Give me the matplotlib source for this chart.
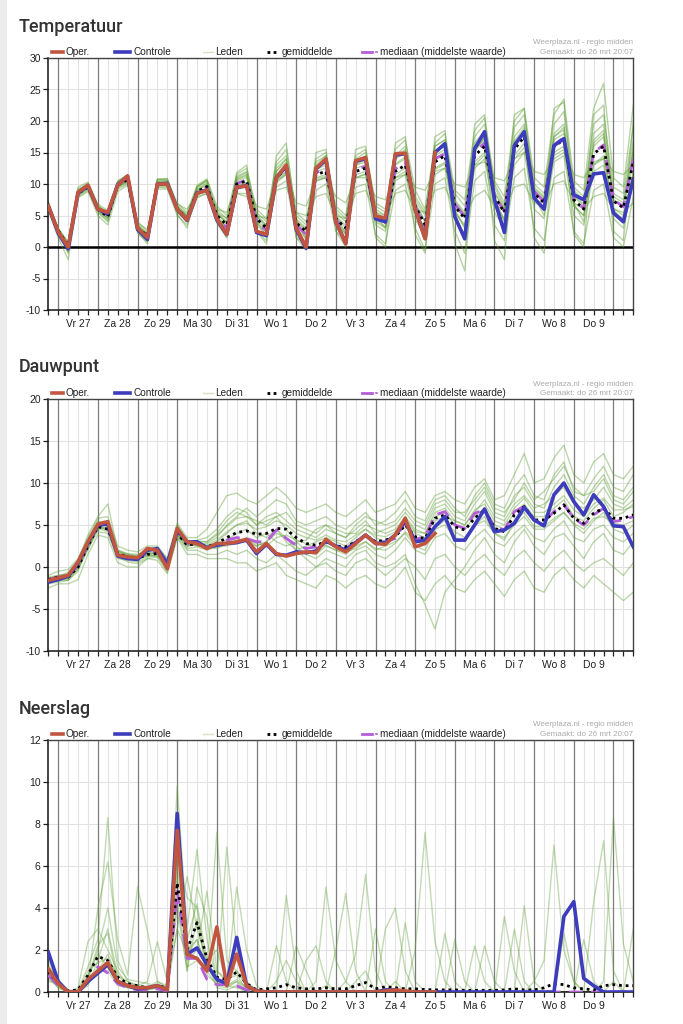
import numpy as np
import matplotlib
matplotlib.use("Agg")
import matplotlib.pyplot as plt
from matplotlib.lines import Line2D
from matplotlib.patches import Rectangle

plt.rcParams['font.family'] = ['Liberation Sans', 'DejaVu Sans']
plt.rcParams['axes.unicode_minus'] = False

# time axis: 6-hourly steps from do 26 18:00 to vr 10 12:00
n_steps = 60
day_labels = ['Vr 27', 'Za 28', 'Zo 29', 'Ma 30', 'Di 31', 'Wo 1', 'Do 2',
              'Vr 3', 'Za 4', 'Zo 5', 'Ma 6', 'Di 7', 'Wo 8', 'Do 9']

# ---------------- Temperatuur ----------------
temp_oper = [6.5, 2.4, 0.0, 8.7, 9.8, 6.0, 5.5, 9.8, 11.3, 3.0,
             1.5, 10.0, 10.0, 6.0, 4.3, 8.5, 9.0, 4.5, 2.0, 9.5,
             9.7, 2.5, 2.0, 11.0, 13.0, 3.0, 0.0, 12.5, 14.0, 4.0,
             0.5, 13.7, 14.2, 4.9, 4.6, 14.8, 14.9, 6.0, 1.3, 15.0]
temp_ctrl = [6.5, 2.2, -0.3, 8.6, 9.7, 6.0, 5.3, 9.9, 11.2, 2.8,
             1.2, 10.0, 10.1, 6.0, 4.2, 8.6, 9.0, 4.3, 2.0, 9.4,
             9.8, 2.3, 1.8, 11.0, 12.8, 2.8, -0.2, 12.4, 13.8, 4.0,
             0.6, 13.6, 14.0, 4.5, 4.0, 14.6, 14.8, 6.0, 1.4, 15.0,
             16.4, 4.8, 1.3, 15.6, 18.3, 7.5, 2.3, 16.1, 18.3, 7.8,
             6.0, 16.1, 17.2, 8.3, 7.5, 11.6, 11.8, 5.4, 4.0, 10.8]
temp_mean = [6.5, 2.6, 0.2, 8.5, 9.5, 6.0, 4.8, 9.8, 10.7, 3.0,
             1.8, 10.0, 10.0, 6.0, 4.6, 8.8, 9.6, 5.0, 3.5, 10.0,
             10.5, 4.5, 3.0, 11.0, 12.5, 3.8, 2.5, 11.5, 12.0, 4.5,
             3.0, 12.0, 12.5, 5.0, 4.0, 12.0, 13.0, 6.5, 3.5, 13.5,
             14.5, 6.5, 4.5, 14.5, 16.0, 8.0, 5.5, 15.5, 17.5, 8.5,
             7.0, 16.0, 17.0, 7.5, 6.0, 14.8, 16.0, 7.3, 6.2, 13.5]
temp_median = [6.5, 2.5, 0.1, 8.6, 9.6, 6.0, 5.0, 9.9, 10.9, 2.9,
               1.6, 10.1, 10.1, 6.0, 4.4, 8.7, 9.5, 4.8, 3.0, 10.1,
               10.6, 4.0, 2.6, 11.3, 12.8, 3.5, 2.0, 11.8, 12.4, 4.3,
               2.6, 12.3, 12.8, 4.8, 3.8, 12.4, 13.4, 6.4, 3.2, 14.0,
               14.8, 6.8, 4.8, 15.0, 16.5, 8.2, 5.6, 16.0, 18.2, 8.8,
               7.2, 16.2, 17.4, 7.6, 6.1, 15.0, 16.2, 7.5, 6.4, 14.0]
temp_members = [
    [7.2, 3.0, 0.8, 9.5, 10.3, 6.8, 5.8, 10.5, 11.5, 4.0,
     2.5, 10.8, 10.6, 7.0, 5.5, 9.8, 10.8, 6.5, 5.0, 11.5,
     12.5, 6.0, 4.5, 13.5, 15.5, 5.5, 4.0, 14.0, 15.0, 6.5,
     5.0, 14.5, 15.5, 7.0, 6.0, 15.5, 17.0, 9.0, 6.0, 16.5,
     18.0, 9.0, 7.5, 18.5, 20.5, 10.5, 8.0, 20.0, 22.0, 11.0,
     9.5, 21.0, 23.5, 10.5, 9.0, 22.0, 26.0, 11.0, 9.5, 22.5],
    [5.8, 1.5, -2.0, 7.8, 8.8, 5.0, 3.5, 8.8, 9.8, 2.2,
     0.8, 9.2, 9.2, 5.0, 3.5, 7.8, 8.5, 3.8, 1.5, 8.5,
     8.5, 2.5, 1.0, 9.5, 10.5, 1.5, 0.5, 9.0, 10.0, 2.5,
     1.0, 9.5, 10.0, 2.0, 0.5, 9.0, 10.0, 3.0, -0.5, 10.0,
     11.0, 2.5, -1.0, 10.5, 12.0, 3.5, 1.0, 11.0, 12.5, 3.0,
     1.0, 11.0, 12.0, 2.5, 0.5, 9.0, 10.0, 1.5, 0.0, 8.0],
    [6.8, 2.8, 0.5, 8.8, 9.8, 6.2, 5.0, 10.2, 11.0, 3.5,
     2.0, 10.5, 10.4, 6.5, 5.0, 9.2, 10.2, 5.5, 4.0, 10.8,
     11.5, 5.0, 3.5, 12.5, 14.0, 4.5, 3.0, 12.5, 13.5, 5.5,
     4.0, 13.0, 14.0, 6.0, 5.0, 14.0, 15.0, 7.5, 5.0, 15.0,
     16.0, 7.5, 5.5, 16.5, 18.5, 9.5, 6.5, 17.5, 19.5, 9.5,
     8.0, 18.0, 19.5, 9.0, 7.5, 18.0, 19.5, 8.5, 7.5, 17.0],
    [6.2, 2.2, -0.5, 8.2, 9.2, 5.6, 4.2, 9.4, 10.2, 2.6,
     1.2, 9.6, 9.6, 5.5, 4.0, 8.3, 9.0, 4.4, 2.5, 9.2,
     9.5, 3.5, 2.0, 10.2, 11.5, 2.8, 1.5, 10.5, 11.0, 3.5,
     2.0, 11.0, 11.5, 3.5, 2.5, 10.5, 11.5, 4.5, 1.5, 11.5,
     12.5, 4.5, 2.0, 12.5, 14.0, 5.5, 3.0, 13.0, 15.0, 6.0,
     4.5, 13.5, 14.5, 5.0, 3.5, 12.0, 13.0, 4.5, 3.0, 10.5],
    [6.6, 2.9, 0.4, 8.4, 9.4, 6.4, 5.6, 9.6, 10.4, 3.8,
     2.8, 9.8, 9.8, 6.8, 6.0, 8.6, 9.4, 6.0, 5.5, 9.6,
     10.0, 6.5, 6.0, 10.5, 11.5, 7.0, 6.5, 10.5, 11.0, 8.0,
     7.0, 11.0, 11.0, 8.0, 7.5, 11.0, 11.5, 9.5, 9.0, 12.0,
     12.5, 10.0, 9.5, 13.0, 13.5, 11.0, 10.5, 14.0, 15.0, 12.0,
     11.5, 14.0, 15.0, 11.5, 11.0, 13.5, 14.0, 12.0, 11.5, 13.0],
    [6.4, 2.3, -1.0, 8.9, 10.0, 5.5, 4.0, 10.0, 11.2, 2.4,
     0.5, 10.4, 10.6, 5.2, 3.0, 9.5, 10.5, 4.0, 1.5, 11.0,
     11.8, 2.5, 0.5, 12.0, 14.0, 1.5, -0.5, 13.0, 14.5, 2.5,
     0.0, 13.5, 14.5, 1.5, 0.0, 14.0, 15.5, 2.0, -1.0, 16.0,
     17.0, 0.5, -3.8, 15.0, 17.5, 1.0, -2.0, 16.0, 18.5, 1.5,
     -1.0, 17.5, 19.0, 2.0, 0.0, 17.0, 18.5, 2.5, 1.0, 16.0],
    [6.5, 2.6, 0.0, 8.6, 9.6, 6.1, 5.2, 9.9, 10.8, 3.2,
     1.7, 10.2, 10.2, 6.2, 4.8, 9.0, 9.8, 5.2, 3.8, 10.5,
     11.0, 4.8, 3.0, 11.5, 13.0, 4.0, 2.5, 12.0, 12.5, 4.8,
     3.0, 12.5, 13.0, 5.5, 4.5, 13.0, 14.0, 7.0, 4.0, 14.0,
     15.0, 7.0, 5.0, 15.5, 17.0, 8.5, 6.0, 16.5, 18.5, 9.0,
     7.5, 17.0, 18.0, 8.0, 6.5, 16.0, 17.5, 7.5, 6.5, 15.0],
    [6.3, 2.4, 0.2, 8.0, 9.0, 5.8, 4.6, 9.2, 10.0, 3.0,
     2.2, 9.5, 9.4, 6.0, 5.0, 8.0, 8.5, 5.5, 4.5, 8.5,
     8.0, 5.0, 4.5, 9.0, 9.5, 5.5, 5.0, 8.0, 8.5, 5.0,
     4.5, 8.5, 9.0, 5.5, 5.0, 8.5, 9.0, 6.0, 5.5, 9.0,
     9.5, 6.0, 5.0, 8.0, 9.0, 6.5, 6.0, 9.5, 10.0, 7.0,
     6.5, 10.0, 10.5, 7.0, 6.0, 8.0, 8.5, 6.0, 5.5, 7.0],
    [7.0, 2.7, -0.8, 9.2, 10.0, 6.5, 5.2, 10.4, 11.4, 3.4,
     1.5, 10.8, 10.8, 6.4, 4.2, 9.5, 10.6, 5.0, 2.8, 11.8,
     13.0, 4.0, 1.8, 14.5, 16.5, 4.5, 1.0, 15.0, 15.5, 5.0,
     2.0, 15.5, 16.0, 5.0, 3.0, 16.5, 17.5, 6.0, 2.5, 17.5,
     18.5, 6.0, 3.0, 19.5, 21.0, 8.0, 4.0, 21.0, 22.0, 8.0,
     5.0, 22.0, 23.0, 7.0, 4.0, 21.0, 22.5, 6.0, 4.0, 20.0],
    [6.0, 2.0, -0.2, 8.3, 9.3, 5.9, 4.5, 9.6, 10.5, 2.8,
     1.6, 9.9, 9.9, 5.8, 4.4, 8.6, 9.3, 4.8, 3.2, 9.8,
     10.2, 4.2, 2.8, 10.8, 12.0, 3.5, 2.0, 11.0, 11.5, 4.0,
     2.5, 11.5, 12.0, 4.0, 3.0, 11.5, 12.5, 5.5, 3.0, 12.5,
     13.5, 5.5, 3.5, 13.5, 15.0, 7.0, 4.5, 14.5, 16.5, 7.5,
     6.0, 15.0, 16.0, 6.5, 5.0, 13.0, 14.5, 5.5, 4.5, 12.0],
    [6.7, 2.7, 0.3, 8.7, 9.7, 6.2, 5.0, 10.0, 11.0, 3.3,
     2.0, 10.3, 10.3, 6.3, 4.9, 9.1, 10.0, 5.3, 3.9, 10.7,
     11.3, 5.0, 3.4, 12.0, 13.5, 4.2, 2.8, 12.3, 13.0, 5.0,
     3.4, 13.0, 13.5, 5.3, 4.3, 13.2, 14.3, 7.0, 4.0, 14.5,
     15.5, 7.2, 5.2, 15.5, 17.3, 8.8, 6.2, 16.8, 19.0, 9.2,
     7.8, 17.5, 18.6, 8.2, 6.8, 16.5, 18.0, 8.0, 7.0, 15.5],
    [6.4, 2.4, -0.1, 8.4, 9.3, 5.8, 4.6, 9.6, 10.4, 2.8,
     1.5, 9.8, 9.8, 5.7, 4.2, 8.5, 9.2, 4.6, 3.0, 9.6,
     9.9, 3.9, 2.4, 10.5, 11.8, 3.2, 1.8, 10.8, 11.2, 3.8,
     2.2, 11.0, 11.6, 4.3, 3.2, 11.0, 12.0, 5.8, 2.6, 12.3,
     13.2, 5.5, 3.2, 13.0, 14.6, 6.8, 4.2, 14.0, 15.8, 7.5,
     5.8, 14.5, 15.5, 6.5, 5.0, 13.0, 14.0, 6.2, 5.0, 11.5],
    [6.9, 2.9, 0.6, 9.0, 10.1, 6.6, 5.4, 10.3, 11.3, 3.6,
     2.2, 10.6, 10.9, 6.6, 5.2, 9.6, 10.6, 6.0, 4.5, 11.2,
     12.0, 5.5, 4.0, 13.0, 14.5, 5.0, 3.5, 13.5, 14.5, 6.0,
     4.5, 14.0, 15.0, 6.5, 5.5, 14.5, 16.0, 8.0, 5.5, 16.0,
     17.0, 8.5, 6.5, 17.5, 19.5, 10.0, 7.0, 19.0, 21.0, 10.0,
     8.5, 19.5, 21.5, 9.5, 8.0, 19.5, 21.0, 9.5, 8.5, 19.0],
]

# ---------------- Dauwpunt ----------------
dew_oper = [-1.6, -1.3, -1.0, 0.6, 3.0, 5.1, 5.4, 1.4, 1.2, 1.1,
            2.2, 2.0, -0.2, 4.6, 3.0, 2.8, 2.2, 2.8, 2.8, 3.0,
            3.3, 1.8, 2.8, 1.6, 1.3, 1.6, 1.8, 1.7, 3.3, 2.4,
            1.8, 2.8, 3.8, 2.8, 2.7, 3.8, 5.8, 2.4, 2.8, 4.0]
dew_ctrl = [-1.8, -1.5, -1.1, 0.5, 2.9, 5.0, 5.1, 1.3, 1.0, 0.9,
            2.0, 2.2, 0.4, 4.4, 3.0, 3.0, 2.3, 2.6, 2.8, 2.9,
            3.2, 1.6, 2.7, 1.5, 1.4, 1.8, 1.7, 1.9, 3.1, 2.5,
            2.0, 2.9, 3.8, 2.8, 2.9, 3.8, 5.5, 3.0, 3.2, 4.8,
            6.0, 3.2, 3.2, 5.0, 6.9, 4.2, 4.4, 5.2, 7.1, 5.6,
            4.9, 8.6, 10.0, 7.8, 6.2, 8.6, 7.2, 4.9, 4.8, 2.4]
dew_mean = [-1.5, -1.2, -1.2, 0.0, 2.5, 4.8, 4.5, 1.6, 1.2, 1.0,
            1.5, 1.6, 0.5, 4.0, 2.6, 2.8, 2.4, 2.8, 3.5, 4.1,
            4.3, 3.9, 4.0, 4.6, 4.5, 3.5, 2.8, 2.6, 3.0, 2.5,
            2.4, 3.0, 3.8, 3.0, 3.2, 3.6, 5.0, 3.6, 3.4, 5.8,
            6.2, 4.8, 4.4, 5.8, 6.8, 4.6, 4.2, 6.2, 7.2, 5.6,
            5.6, 6.4, 7.4, 5.8, 5.2, 6.4, 7.0, 5.8, 5.8, 6.2]
dew_median = [-1.5, -1.2, -1.1, 0.2, 2.7, 4.9, 4.7, 1.5, 1.1, 1.0,
              1.7, 1.8, 0.3, 4.2, 2.8, 2.8, 2.3, 2.7, 3.2, 3.5,
              3.4, 3.0, 3.0, 4.4, 3.4, 2.6, 2.2, 2.4, 3.1, 2.4,
              2.2, 3.0, 3.8, 3.0, 3.0, 3.4, 5.3, 3.3, 3.6, 6.2,
              6.6, 5.0, 4.6, 6.4, 6.8, 4.8, 4.4, 6.6, 7.2, 5.5,
              5.4, 6.6, 7.4, 5.8, 5.0, 6.2, 7.0, 5.4, 5.6, 6.0]
dew_members = [
    [-1.0, -0.5, -0.3, 1.0, 3.5, 5.8, 6.0, 2.5, 2.0, 1.8,
     2.5, 2.5, 1.0, 5.2, 3.5, 3.5, 4.5, 6.5, 8.5, 8.8,
     8.0, 7.5, 8.5, 9.5, 8.5, 7.0, 6.5, 7.0, 7.5, 6.5,
     6.0, 7.0, 8.0, 6.5, 7.0, 7.5, 9.0, 7.0, 6.5, 8.5,
     9.0, 8.0, 7.5, 9.5, 10.5, 8.0, 8.5, 11.0, 13.5, 10.0,
     10.5, 13.0, 14.5, 11.0, 10.0, 12.5, 13.5, 11.0, 10.5, 12.0],
    [-2.5, -2.0, -2.0, -1.5, 1.5, 3.8, 3.5, 0.5, 0.0, 0.0,
     1.0, 0.8, -0.8, 3.5, 1.5, 1.5, 1.0, 1.0, 1.0, 0.5,
     0.5, -0.5, 0.0, 0.5, -1.0, -1.5, -2.0, -2.5, -1.0, -1.5,
     -2.5, -1.5, -1.0, -2.0, -2.5, -1.5, 0.0, -3.0, -4.0, -2.0,
     -1.0, -2.5, -3.0, -1.5, -0.5, -2.0, -3.5, -1.5, -0.5, -2.5,
     -3.0, -1.0, 0.0, -1.5, -2.5, -1.0, -2.0, -3.0, -4.0, -3.0],
    [-1.8, -1.6, -1.5, 0.2, 3.2, 5.5, 5.0, 1.8, 1.5, 1.2,
     1.8, 2.0, 0.6, 4.5, 3.0, 3.2, 3.5, 4.5, 6.0, 7.0,
     6.5, 5.0, 6.0, 6.5, 5.5, 4.5, 4.0, 3.5, 4.5, 4.0,
     3.5, 4.5, 5.5, 4.0, 4.5, 5.0, 6.5, 5.0, 4.5, 7.0,
     7.5, 6.0, 5.5, 7.5, 9.0, 6.5, 6.0, 8.5, 9.5, 7.5,
     7.0, 9.5, 11.0, 8.5, 7.5, 9.5, 11.0, 8.5, 8.0, 9.5],
    [-1.2, -1.0, -0.8, 0.5, 2.2, 4.2, 4.0, 1.0, 0.8, 0.6,
     1.2, 1.4, -0.4, 3.8, 2.2, 2.4, 2.0, 2.4, 2.5, 2.8,
     3.5, 2.5, 3.0, 4.0, 3.5, 2.5, 1.5, 1.0, 2.0, 1.5,
     1.0, 2.0, 2.5, 1.5, 1.0, 2.0, 3.5, 2.0, 1.5, 3.5,
     4.0, 2.5, 2.0, 3.5, 4.5, 3.0, 2.5, 4.0, 5.0, 3.5,
     3.0, 4.5, 5.5, 3.5, 3.0, 4.5, 5.0, 3.5, 3.0, 4.0],
    [-2.0, -1.8, -1.6, -0.5, 2.6, 5.2, 5.5, 1.2, 1.0, 0.8,
     1.5, 1.2, 0.0, 4.2, 2.8, 2.5, 2.5, 3.0, 4.0, 5.0,
     5.5, 4.0, 3.5, 4.5, 3.5, 2.0, 1.0, 0.0, 1.0, 0.5,
     0.0, 1.5, 2.0, 0.5, 0.0, 0.5, 1.5, -2.0, -4.5, -7.4,
     -3.0, -1.5, 0.0, 2.0, 3.5, 1.5, 0.5, 3.0, 4.5, 2.5,
     1.5, 3.5, 4.0, 2.5, 1.0, 3.0, 4.0, 2.0, 1.5, 3.0],
    [-1.4, -1.1, -1.3, 0.0, 2.8, 5.0, 5.2, 2.0, 1.5, 1.4,
     1.8, 1.6, 0.8, 4.0, 2.4, 2.8, 2.8, 3.5, 5.0, 6.0,
     7.0, 6.0, 7.0, 8.0, 7.5, 5.5, 5.0, 5.5, 6.0, 5.0,
     4.5, 5.5, 6.5, 5.0, 5.5, 6.5, 8.0, 6.0, 5.5, 8.0,
     8.5, 7.0, 6.0, 8.5, 10.0, 7.5, 7.0, 9.5, 11.0, 8.5,
     8.0, 11.0, 12.5, 9.0, 8.5, 10.5, 12.0, 9.5, 9.0, 11.0],
    [-1.6, -1.4, -1.0, 0.4, 2.4, 4.6, 4.2, 1.4, 1.2, 1.0,
     1.4, 1.8, 0.2, 4.4, 2.6, 2.6, 2.2, 2.6, 3.0, 3.4,
     3.0, 2.5, 3.0, 4.5, 3.0, 2.0, 2.5, 3.0, 3.5, 3.0,
     2.5, 3.5, 4.5, 3.5, 3.0, 4.0, 5.5, 4.0, 3.5, 6.0,
     6.5, 5.0, 4.5, 6.0, 7.0, 5.0, 4.5, 6.5, 7.5, 6.0,
     6.0, 7.0, 8.0, 6.0, 5.5, 7.0, 8.0, 6.0, 6.5, 7.5],
    [-1.9, -1.3, -1.4, -0.2, 2.0, 4.8, 4.4, 1.2, 0.6, 0.4,
     1.0, 1.2, -0.6, 3.6, 2.0, 2.0, 1.5, 1.5, 2.0, 1.5,
     2.0, 1.0, 0.5, 1.5, 0.5, -0.5, -1.0, 0.0, 0.5, -0.5,
     -1.0, 0.5, 1.0, 0.0, -1.0, 0.0, 1.0, 0.0, -1.5, 1.0,
     1.5, 0.0, -1.0, 0.5, 1.5, 0.0, -1.0, 1.0, 2.0, 0.5,
     -0.5, 1.0, 2.0, 0.5, -0.5, 0.5, 1.0, 0.0, -1.0, 0.5],
    [-1.3, -1.2, -0.6, 0.8, 3.8, 6.0, 7.5, 2.0, 1.6, 1.5,
     2.0, 2.3, 1.0, 5.0, 3.2, 3.0, 3.0, 4.0, 5.5, 6.5,
     6.0, 5.5, 5.0, 6.0, 6.5, 5.0, 4.5, 4.0, 5.0, 4.5,
     4.0, 4.0, 5.0, 4.5, 4.0, 4.5, 6.0, 4.5, 4.0, 5.5,
     6.0, 5.5, 5.0, 6.5, 8.0, 6.0, 5.5, 7.5, 8.5, 7.0,
     7.5, 8.5, 9.5, 7.5, 7.0, 8.0, 9.5, 7.5, 7.0, 8.0],
    [-1.7, -1.5, -1.6, -0.3, 2.5, 4.5, 4.8, 1.6, 1.3, 1.1,
     1.6, 1.5, 0.1, 3.8, 2.8, 2.6, 2.4, 2.8, 3.2, 4.0,
     4.5, 3.5, 4.0, 3.0, 2.5, 3.0, 2.0, 1.5, 2.5, 2.0,
     1.5, 2.5, 3.0, 2.0, 2.5, 3.0, 4.0, 2.5, 2.0, 4.5,
     5.0, 3.5, 3.0, 5.0, 5.5, 4.0, 3.5, 5.0, 6.0, 4.5,
     4.5, 5.5, 6.5, 5.0, 4.0, 5.5, 6.5, 4.5, 4.0, 5.0],
    [-1.5, -1.3, -1.2, 0.1, 2.6, 4.9, 4.6, 1.5, 1.2, 1.0,
     1.6, 1.7, 0.4, 4.1, 2.7, 2.7, 2.6, 3.2, 4.2, 5.0,
     5.2, 4.5, 4.8, 5.5, 5.0, 4.0, 3.5, 3.2, 3.8, 3.2,
     3.0, 3.8, 4.5, 3.8, 3.6, 4.2, 5.8, 4.2, 4.0, 6.5,
     7.0, 5.5, 5.0, 6.8, 7.5, 5.5, 5.0, 7.0, 8.2, 6.5,
     6.5, 7.5, 8.5, 6.8, 6.0, 7.5, 8.2, 6.8, 6.8, 7.2],
    [-1.6, -1.2, -1.3, -0.1, 2.3, 4.7, 4.5, 1.7, 1.3, 1.1,
     1.3, 1.4, 0.6, 3.9, 2.5, 2.9, 2.4, 2.2, 2.8, 3.0,
     3.2, 2.8, 2.5, 3.5, 3.8, 3.2, 2.8, 2.2, 2.6, 2.0,
     1.8, 2.2, 3.0, 2.2, 2.0, 2.8, 4.2, 3.0, 2.8, 4.8,
     5.5, 4.2, 3.5, 5.0, 6.0, 4.0, 3.2, 5.5, 6.5, 4.8,
     4.8, 5.8, 6.5, 5.2, 4.5, 5.8, 6.0, 5.2, 5.0, 5.5],
    [-1.4, -1.0, -0.9, 0.3, 2.9, 5.3, 5.0, 1.9, 1.4, 1.3,
     1.9, 2.1, 0.7, 4.3, 2.9, 3.1, 3.0, 3.8, 4.8, 5.8,
     6.0, 5.0, 5.5, 6.0, 4.5, 3.0, 3.2, 4.5, 5.0, 4.0,
     3.5, 5.0, 6.0, 5.5, 5.0, 5.5, 7.0, 5.5, 5.0, 7.5,
     8.0, 6.5, 6.5, 8.0, 9.5, 7.0, 6.5, 8.0, 10.0, 8.0,
     9.0, 10.5, 12.0, 9.5, 8.5, 9.0, 10.5, 8.0, 7.5, 9.0],
]

# ---------------- Neerslag ----------------
rain_oper = [1.1, 0.4, 0.0, 0.0, 0.6, 1.0, 1.4, 0.5, 0.3, 0.2,
             0.2, 0.3, 0.1, 7.7, 1.8, 1.6, 1.0, 3.1, 0.3, 1.8,
             0.3, 0.05, 0.0, 0.0, 0.0, 0.0, 0.0, 0.0, 0.0, 0.0,
             0.0, 0.0, 0.0, 0.0, 0.05, 0.1, 0.05, 0.0, 0.0, 0.0]
rain_ctrl = [1.9, 0.5, 0.0, 0.0, 0.5, 0.9, 1.3, 0.5, 0.3, 0.15,
             0.2, 0.3, 0.1, 8.5, 1.8, 2.1, 1.3, 0.6, 0.4, 2.6,
             0.3, 0.05, 0.0, 0.0, 0.0, 0.0, 0.0, 0.0, 0.0, 0.0,
             0.0, 0.0, 0.0, 0.0, 0.1, 0.1, 0.0, 0.0, 0.0, 0.0,
             0.0, 0.0, 0.0, 0.0, 0.0, 0.0, 0.0, 0.0, 0.0, 0.0,
             0.0, 0.0, 3.6, 4.3, 0.65, 0.3, 0.0, 0.0, 0.0, 0.0]
rain_mean = [1.0, 0.4, 0.05, 0.1, 0.8, 1.7, 1.5, 0.7, 0.4, 0.3,
             0.2, 0.3, 0.2, 5.2, 2.0, 3.3, 1.6, 0.7, 0.6, 0.95,
             0.4, 0.1, 0.15, 0.2, 0.35, 0.2, 0.15, 0.15, 0.2, 0.15,
             0.15, 0.3, 0.45, 0.15, 0.25, 0.2, 0.15, 0.15, 0.12, 0.1,
             0.1, 0.1, 0.08, 0.08, 0.08, 0.08, 0.1, 0.15, 0.1, 0.1,
             0.2, 0.4, 0.35, 0.2, 0.15, 0.1, 0.3, 0.35, 0.3, 0.3]
rain_median = [0.8, 0.3, 0.0, 0.0, 0.5, 1.2, 0.9, 0.4, 0.2, 0.1,
               0.1, 0.15, 0.05, 4.8, 1.6, 1.6, 0.6, 0.35, 0.35, 0.3,
               0.1, 0.0, 0.0, 0.0, 0.0, 0.0, 0.0, 0.0, 0.0, 0.0,
               0.0, 0.0, 0.0, 0.0, 0.0, 0.0, 0.0, 0.0, 0.0, 0.0,
               0.0, 0.0, 0.0, 0.0, 0.0, 0.0, 0.0, 0.0, 0.0, 0.0,
               0.0, 0.0, 0.0, 0.0, 0.0, 0.0, 0.0, 0.0, 0.0, 0.0]
rain_members = [
    [0.9, 0.3, 0.0, 0.1, 1.2, 2.5, 8.3, 1.5, 0.5, 0.3,
     0.2, 0.5, 0.3, 9.8, 3.0, 6.8, 2.5, 0.5, 0.3, 0.5,
     0.2, 0.0, 0.0, 0.5, 1.5, 0.5, 0.0, 0.0, 0.3, 0.0,
     0.0, 0.5, 1.0, 0.0, 0.0, 0.5, 0.0, 0.0, 0.0, 0.0,
     0.0, 0.0, 0.0, 0.0, 0.0, 0.0, 0.0, 0.0, 0.0, 0.5,
     1.5, 7.0, 2.0, 0.5, 0.0, 0.0, 0.0, 0.5, 0.0, 0.0],
    [0.7, 0.2, 0.0, 0.0, 0.5, 4.0, 6.2, 2.5, 0.8, 5.0,
     2.9, 0.5, 0.2, 6.5, 4.5, 4.0, 1.0, 7.6, 1.5, 1.0,
     0.3, 0.0, 0.0, 0.0, 0.0, 0.0, 0.0, 0.0, 0.0, 0.0,
     0.5, 1.8, 5.6, 1.0, 0.0, 0.0, 0.0, 0.0, 0.0, 0.0,
     0.0, 0.0, 0.0, 0.0, 0.0, 0.0, 0.0, 0.0, 0.0, 0.0,
     0.0, 0.0, 0.0, 0.0, 0.0, 0.0, 0.5, 8.3, 2.3, 0.5],
    [1.2, 0.6, 0.0, 0.2, 2.4, 3.0, 2.0, 1.0, 0.3, 0.2,
     0.1, 0.2, 0.0, 4.5, 1.0, 5.0, 3.5, 0.5, 6.9, 2.0,
     0.5, 0.1, 0.0, 0.0, 0.0, 2.2, 1.0, 0.0, 0.0, 0.0,
     0.0, 0.0, 0.0, 0.0, 0.0, 0.0, 0.0, 2.0, 7.6, 2.4,
     0.5, 0.0, 0.0, 0.0, 0.0, 0.0, 0.0, 0.0, 0.0, 0.0,
     0.0, 0.0, 0.0, 0.0, 0.0, 0.0, 0.0, 0.0, 0.0, 0.0],
    [0.5, 0.4, 0.1, 0.0, 0.3, 1.5, 3.0, 0.8, 0.5, 0.3,
     0.5, 2.4, 0.5, 3.0, 5.5, 3.0, 1.5, 2.0, 0.5, 5.0,
     2.0, 0.3, 0.0, 0.0, 4.6, 1.0, 0.0, 0.0, 0.0, 0.0,
     0.0, 0.0, 0.0, 0.0, 3.0, 4.0, 1.0, 0.0, 0.0, 0.0,
     2.8, 0.5, 0.0, 0.0, 0.0, 0.0, 0.0, 0.0, 0.0, 0.0,
     0.0, 0.0, 0.0, 0.0, 0.0, 4.3, 7.2, 1.0, 0.0, 0.0],
    [1.5, 0.5, 0.0, 0.0, 0.8, 1.8, 1.2, 0.4, 0.2, 0.2,
     0.3, 0.2, 0.1, 7.0, 2.0, 2.5, 1.0, 0.3, 0.2, 0.5,
     0.0, 0.0, 0.0, 0.0, 0.0, 0.0, 0.0, 0.5, 5.0, 1.5,
     0.5, 0.0, 0.0, 0.0, 0.0, 0.0, 0.0, 0.0, 0.0, 0.0,
     0.0, 2.5, 0.5, 0.0, 0.0, 0.0, 3.6, 1.0, 0.0, 0.0,
     0.0, 0.0, 0.0, 0.0, 0.0, 0.0, 0.0, 0.0, 0.0, 3.0],
    [0.8, 0.2, 0.0, 0.1, 0.6, 2.0, 4.0, 1.2, 0.6, 0.5,
     0.4, 0.3, 0.2, 8.5, 1.5, 2.0, 4.8, 1.0, 0.5, 1.0,
     0.3, 0.0, 0.0, 2.2, 0.5, 0.0, 0.0, 0.0, 0.0, 0.0,
     0.0, 0.0, 0.0, 3.0, 0.5, 0.0, 3.3, 0.5, 0.0, 0.0,
     0.0, 0.0, 0.0, 2.2, 0.5, 0.0, 0.0, 0.0, 4.1, 0.5,
     0.0, 0.0, 0.0, 0.0, 2.5, 0.5, 0.0, 0.0, 0.0, 0.0],
    [1.0, 0.3, 0.0, 0.0, 0.4, 1.0, 1.8, 0.6, 0.3, 0.2,
     0.2, 0.3, 0.1, 5.5, 1.2, 1.5, 1.2, 0.5, 0.3, 0.2,
     0.0, 0.0, 0.0, 0.0, 0.0, 0.0, 1.5, 2.2, 0.5, 0.0,
     0.0, 0.0, 0.0, 0.0, 0.0, 0.0, 0.0, 0.0, 0.0, 0.0,
     0.0, 0.0, 0.0, 0.0, 2.2, 0.5, 0.0, 3.0, 0.5, 0.0,
     0.0, 0.0, 2.8, 0.5, 0.0, 0.0, 0.0, 0.0, 0.0, 0.0],
    [0.6, 0.3, 0.0, 0.0, 0.7, 2.2, 2.8, 0.5, 0.4, 0.3,
     0.2, 0.4, 0.2, 4.0, 1.0, 3.5, 0.8, 0.4, 0.3, 0.6,
     0.2, 0.0, 0.0, 0.0, 0.0, 0.0, 0.0, 0.0, 0.0, 2.0,
     4.7, 1.0, 0.0, 0.0, 0.0, 0.0, 0.0, 0.0, 0.0, 0.0,
     0.0, 0.0, 0.0, 0.0, 0.0, 0.0, 0.0, 0.0, 0.0, 0.0,
     0.0, 0.0, 0.0, 0.0, 0.0, 0.0, 0.0, 0.0, 0.0, 0.0],
    [1.3, 0.5, 0.1, 0.0, 0.4, 1.2, 1.0, 0.3, 0.2, 0.1,
     0.1, 0.2, 0.1, 6.0, 2.5, 4.2, 1.5, 0.2, 0.1, 0.3,
     0.0, 0.0, 0.0, 0.0, 0.0, 0.0, 0.0, 0.0, 0.0, 0.0,
     0.0, 0.0, 0.0, 0.0, 0.0, 0.0, 0.0, 0.0, 0.0, 0.0,
     0.0, 0.0, 0.0, 0.0, 0.0, 0.0, 0.0, 0.0, 0.0, 0.0,
     0.0, 0.0, 0.0, 0.0, 0.0, 0.0, 0.0, 0.0, 0.0, 0.0],
    [0.9, 0.4, 0.0, 0.0, 1.0, 1.4, 1.6, 0.8, 0.3, 0.2,
     0.2, 0.2, 0.1, 3.0, 1.8, 2.5, 1.0, 1.0, 0.6, 0.8,
     0.1, 0.0, 0.0, 0.0, 0.0, 0.0, 0.0, 0.0, 0.0, 0.0,
     0.0, 0.0, 0.0, 0.0, 0.0, 0.0, 0.0, 0.0, 0.0, 0.0,
     0.0, 0.0, 0.0, 0.0, 0.0, 0.0, 0.0, 0.0, 0.0, 0.0,
     0.0, 0.0, 0.0, 0.0, 0.0, 0.0, 0.0, 0.0, 0.0, 0.0],
]

C_OPER = '#c1553f'
C_CTRL = '#3c3cbd'
C_MEMB = '#5f9f35'
C_MED = '#b45ed8'
W, H = 683, 1024


def fx(px):
    return px / W


def fy(py):
    return 1 - py / H


fig = plt.figure(figsize=(6.83, 10.24), dpi=100)
fig.patch.set_facecolor('white')
# page border strip on the left
fig.add_artist(Rectangle((0, 0), fx(7), 1, transform=fig.transFigure,
                         color='#ececec', lw=0, zorder=-5))


def panel(top, title, oper, ctrl, mean, median, members, ylim, yticks, zero_line,
          memb_alpha):
    bottom = top + 252
    ax = fig.add_axes([fx(48.3), fy(bottom), fx(633.3) - fx(48.3), 252 / H])
    x = np.arange(n_steps)

    for m in members:
        ax.plot(x, m, color=C_MEMB, lw=1.0, alpha=memb_alpha, zorder=2)
    ax.plot(x, median, color=C_MED, lw=2.0, dashes=(5, 3), zorder=3)
    ax.plot(x, mean, color='black', lw=2.0, dashes=(1, 1.4), zorder=4)
    ax.plot(x[:len(ctrl)], ctrl, color=C_CTRL, lw=2.6, zorder=5)
    ax.plot(x[:len(oper)], oper, color=C_OPER, lw=2.6, zorder=6)

    # grid: light every 6h, dark at midnight
    for i in range(1, n_steps - 1):
        if (i - 1) % 4 == 0:
            ax.axvline(i, color='#7c7c7c', lw=0.9, zorder=1)
        else:
            ax.axvline(i, color='#e2e2e2', lw=0.8, zorder=0)
    for yv in yticks:
        ax.axhline(yv, color='#e2e2e2', lw=0.8, zorder=0)
    if zero_line:
        ax.axhline(0, color='black', lw=1.8, zorder=1.5)

    ax.set_xlim(0, n_steps - 1)
    ax.set_ylim(*ylim)
    ax.set_yticks(yticks)
    ax.set_xticks(range(n_steps))
    labels = [''] * n_steps
    for k, lab in enumerate(day_labels):
        labels[3 + 4 * k] = lab
    ax.set_xticklabels(labels)
    ax.tick_params(axis='both', labelsize=7.5, colors='#222222', length=3.5,
                   width=0.9, pad=2)
    ax.tick_params(axis='x', pad=3)
    for s in ['left', 'bottom']:
        ax.spines[s].set_color('#111111')
        ax.spines[s].set_linewidth(1.1)
    for s in ['top', 'right']:
        ax.spines[s].set_color('#444444')
        ax.spines[s].set_linewidth(1.0)

    # title
    fig.text(fx(19), fy(top - 26.5), title, fontsize=13, fontweight='medium',
             color='#333333', family=['Roboto', 'DejaVu Sans'], va='baseline')

    # legend row
    ly = fy(top - 6)
    fig.add_artist(Line2D([fx(52), fx(63)], [ly, ly], transform=fig.transFigure,
                          color=C_OPER, lw=2.6))
    fig.text(fx(65), ly, 'Oper.', fontsize=7.2, va='center', color='#222222')
    fig.add_artist(Line2D([fx(115), fx(130)], [ly, ly], transform=fig.transFigure,
                          color=C_CTRL, lw=2.6))
    fig.text(fx(133), ly, 'Controle', fontsize=7.2, va='center', color='#222222')
    fig.add_artist(Line2D([fx(203), fx(213)], [ly, ly], transform=fig.transFigure,
                          color='#d3e4c4', lw=1.0))
    fig.text(fx(215.5), ly, 'Leden', fontsize=7.2, va='center', color='#222222')
    fig.add_artist(Line2D([fx(267), fx(279)], [ly, ly], transform=fig.transFigure,
                          color='black', lw=2.0, dashes=(1, 1.2)))
    fig.text(fx(282), ly, 'gemiddelde', fontsize=7.2, va='center', color='#222222')
    fig.add_artist(Line2D([fx(362), fx(372)], [ly, ly], transform=fig.transFigure,
                          color=C_MED, lw=2.0))
    fig.add_artist(Line2D([fx(376), fx(377)], [ly, ly], transform=fig.transFigure,
                          color=C_MED, lw=1.2))
    fig.text(fx(380.5), ly, 'mediaan (middelste waarde)', fontsize=7.2, va='center',
             color='#222222')

    fig.text(fx(633), fy(top - 15), 'Weerplaza.nl - regio midden', fontsize=5.8,
             ha='right', va='center', color='#aaaaaa')
    fig.text(fx(633), fy(top - 5.5), 'Gemaakt: do 26 mrt 20:07', fontsize=5.8,
             ha='right', va='center', color='#aaaaaa')
    return ax


panel(58, 'Temperatuur', temp_oper, temp_ctrl, temp_mean, temp_median,
      temp_members, (-10, 30), [-10, -5, 0, 5, 10, 15, 20, 25, 30], True, 0.45)
panel(399, 'Dauwpunt', dew_oper, dew_ctrl, dew_mean, dew_median,
      dew_members, (-10, 20), [-10, -5, 0, 5, 10, 15, 20], False, 0.42)
panel(740, 'Neerslag', rain_oper, rain_ctrl, rain_mean, rain_median,
      rain_members, (0, 12), [0, 2, 4, 6, 8, 10, 12], False, 0.38)

fig.savefig('out.png', dpi=100, facecolor='white')
